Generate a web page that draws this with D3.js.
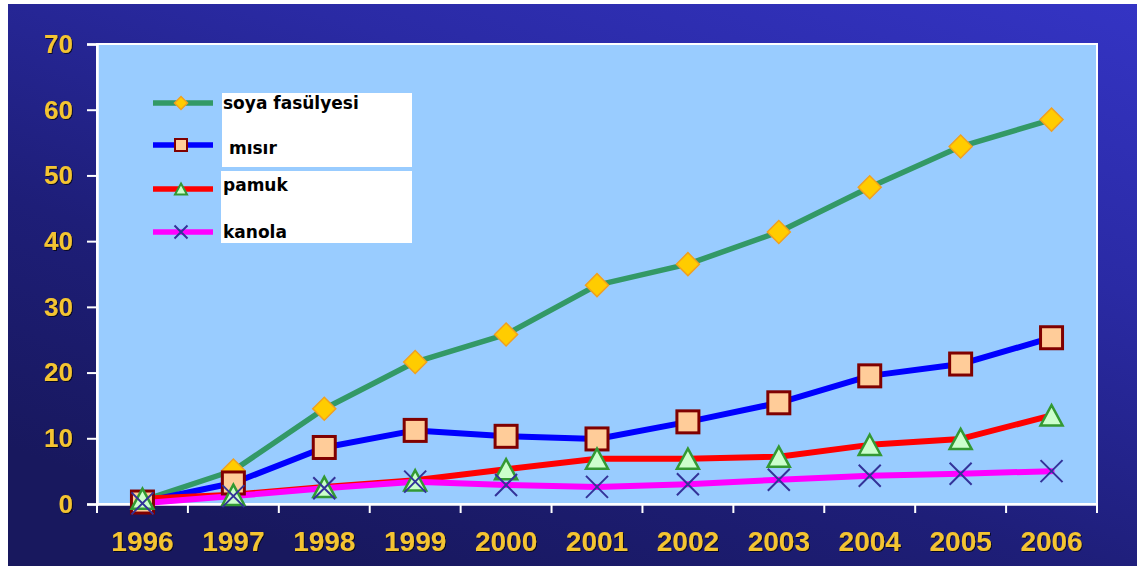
<!DOCTYPE html>
<html>
<head>
<meta charset="utf-8">
<script src="https://cdn.jsdelivr.net/npm/d3@7"></script>
<style>
  html, body { margin: 0; padding: 0; background: #ffffff; }
  svg { display: block; }
</style>
</head>
<body>
<svg id="chart" width="1144" height="566"></svg>
<script>
// ---- data ----
const years = ["1996","1997","1998","1999","2000","2001","2002","2003","2004","2005","2006"];
const soya   = [0.5, 5.1, 14.5, 21.6, 25.8, 33.3, 36.5, 41.4, 48.2, 54.4, 58.5];
const misir  = [0.3, 3.2, 8.6, 11.2, 10.3, 9.9, 12.5, 15.4, 19.5, 21.3, 25.3];
const pamuk  = [0.8, 1.4, 2.6, 3.6, 5.3, 6.9, 6.9, 7.2, 9.0, 9.9, 13.5];
const kanola = [0.1, 1.2, 2.4, 3.4, 2.9, 2.6, 3.0, 3.7, 4.3, 4.6, 5.0];
const seriesNames = ["soya fasülyesi", " mısır", "pamuk", "kanola"];
const yTicks = [0, 10, 20, 30, 40, 50, 60, 70];

const series = [
  { name: seriesNames[0], values: soya,   line: "#339966", lw: 5.5, marker: "diamond" },
  { name: seriesNames[1], values: misir,  line: "#0000ff", lw: 6,   marker: "square" },
  { name: seriesNames[2], values: pamuk,  line: "#ff0000", lw: 6,   marker: "triangle" },
  { name: seriesNames[3], values: kanola, line: "#ff00ff", lw: 6,   marker: "cross" }
];

const svg = d3.select("#chart");

// ---- background ----
const defs = svg.append("defs");
const g1 = defs.append("linearGradient").attr("id", "bg")
  .attr("x1", "100%").attr("y1", "0%").attr("x2", "30%").attr("y2", "100%");
g1.append("stop").attr("offset", "0%").attr("stop-color", "#3434c4");
g1.append("stop").attr("offset", "35%").attr("stop-color", "#2a2aa4");
g1.append("stop").attr("offset", "70%").attr("stop-color", "#1e1e78");
g1.append("stop").attr("offset", "100%").attr("stop-color", "#18185e");

svg.append("rect").attr("x", 8).attr("y", 4).attr("width", 1129).attr("height", 562)
  .attr("fill", "url(#bg)");

const shadow = defs.append("filter").attr("id", "ts").attr("x", "-10%").attr("y", "-10%").attr("width", "130%").attr("height", "130%");
shadow.append("feDropShadow").attr("dx", 1).attr("dy", 1).attr("stdDeviation", 0.6).attr("flood-color", "#000000").attr("flood-opacity", 0.7);

// ---- scales ----
const pL = 97, pR = 1097, pT = 44, pB = 504;
const x = d3.scaleBand().domain(years).range([pL, pR]).padding(0);
const y = d3.scaleLinear().domain([0, 70]).range([pB, pT]);
const cx = d => x(d) + x.bandwidth() / 2;

// plot area
svg.append("rect").attr("x", pL).attr("y", pT).attr("width", pR - pL).attr("height", pB - pT)
  .attr("fill", "#99ccff").attr("stroke", "#ffffff").attr("stroke-width", 2);

// ---- axes ----
const yAxis = svg.append("g").attr("transform", `translate(${pL},0)`)
  .call(d3.axisLeft(y).tickValues(yTicks).tickSize(10).tickPadding(14).tickFormat(d3.format("d")));
yAxis.select(".domain").attr("stroke", "#ffffff").attr("stroke-width", 2.5);
yAxis.selectAll(".tick line").attr("stroke", "#ffffff").attr("stroke-width", 2);
yAxis.selectAll(".tick text")
  .attr("fill", "#f4c430").attr("font-family", "Liberation Sans, Arial, sans-serif")
  .attr("font-weight", "bold").attr("font-size", 26).attr("filter", "url(#ts)");

// x axis: labels at band centers
const xAxis = svg.append("g").attr("transform", `translate(0,${pB})`)
  .call(d3.axisBottom(x).tickSize(0).tickPadding(27));
xAxis.select(".domain").attr("stroke", "#ffffff").attr("stroke-width", 2.5);
xAxis.selectAll(".tick text")
  .attr("fill", "#f4c430").attr("font-family", "Liberation Sans, Arial, sans-serif")
  .attr("font-weight", "bold").attr("font-size", 28).attr("filter", "url(#ts)");
// boundary tick marks between categories
const bounds = years.map(d => x(d)).concat([pR]);
svg.append("g").selectAll("line").data(bounds).join("line")
  .attr("x1", d => d).attr("x2", d => d).attr("y1", pB).attr("y2", pB + 9)
  .attr("stroke", "#ffffff").attr("stroke-width", 2);

// ---- markers ----
function drawMarker(sel, type, size) {
  if (type === "diamond") {
    const s = size / Math.SQRT2;
    sel.append("rect").attr("x", -s / 2).attr("y", -s / 2).attr("width", s).attr("height", s)
      .attr("transform", "rotate(45)")
      .attr("fill", "#ffcc00").attr("stroke", "#f0a020").attr("stroke-width", 1.5);
  } else if (type === "square") {
    sel.append("rect").attr("x", -size / 2).attr("y", -size / 2).attr("width", size).attr("height", size)
      .attr("fill", "#ffcc99").attr("stroke", "#800000").attr("stroke-width", size > 15 ? 3 : 2);
  } else if (type === "triangle") {
    const w = size, h = size * 0.92;
    sel.append("path").attr("d", `M0,${-h / 2}L${w / 2},${h / 2}L${-w / 2},${h / 2}Z`)
      .attr("fill", "#ccffcc").attr("stroke", "#339933").attr("stroke-width", size > 15 ? 2.5 : 2);
  } else if (type === "cross") {
    const r = size / 2;
    sel.append("path").attr("d", `M${-r},${-r}L${r},${r}M${-r},${r}L${r},${-r}`)
      .attr("fill", "none").attr("stroke", "#333399").attr("stroke-width", 2);
  }
}

// ---- lines (all first) ----
const line = d3.line().x((d, i) => cx(years[i])).y(d => y(d));
const linesG = svg.append("g");
series.forEach(s => {
  linesG.append("path").datum(s.values).attr("d", line)
    .attr("fill", "none").attr("stroke", s.line).attr("stroke-width", s.lw)
    .attr("stroke-linejoin", "round").attr("stroke-linecap", "round");
});

// ---- markers ----
const mSizes = { diamond: 23, square: 22, triangle: 22, cross: 22 };
series.forEach(s => {
  const mg = svg.append("g");
  s.values.forEach((v, i) => {
    const g = mg.append("g").attr("transform", `translate(${cx(years[i])},${y(v)})`);
    drawMarker(g, s.marker, mSizes[s.marker]);
  });
});

// ---- legend ----
const lg = svg.append("g");
lg.append("rect").attr("x", 222).attr("y", 93).attr("width", 190).attr("height", 74).attr("fill", "#ffffff");
lg.append("rect").attr("x", 221).attr("y", 171).attr("width", 191).attr("height", 72).attr("fill", "#ffffff");
const legY = [103, 145, 189, 232];
const textY = [103, 148, 185, 232];
const legMS = { diamond: 13, square: 12, triangle: 12, cross: 13 };
series.forEach((s, i) => {
  lg.append("line").attr("x1", 153).attr("x2", 213).attr("y1", legY[i]).attr("y2", legY[i])
    .attr("stroke", s.line).attr("stroke-width", 5.5);
  const g = lg.append("g").attr("transform", `translate(181,${legY[i]})`);
  drawMarker(g, s.marker, legMS[s.marker]);
  lg.append("text").attr("x", 223).attr("y", textY[i]).attr("dy", "0.36em")
    .attr("font-family", "DejaVu Sans, Verdana, sans-serif").attr("font-weight", "bold")
    .attr("font-size", 17).attr("fill", "#000000")
    .style("white-space", "pre")
    .text(s.name);
});
</script>
</body>
</html>
